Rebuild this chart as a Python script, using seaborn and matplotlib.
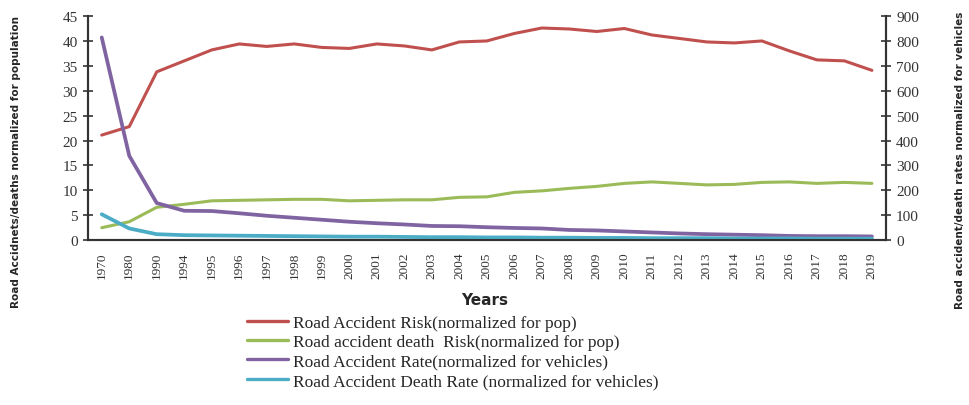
import matplotlib.pyplot as plt
import numpy as np
import pandas as pd
import seaborn as sns

# Data
years = ["1970", "1980", "1990", "1994", "1995", "1996", "1997", "1998", "1999",
         "2000", "2001", "2002", "2003", "2004", "2005", "2006", "2007", "2008",
         "2009", "2010", "2011", "2012", "2013", "2014", "2015", "2016", "2017",
         "2018", "2019"]

# left axis (normalized for population)
accident_risk = [21.1, 22.8, 33.8, 36.0, 38.2, 39.4, 38.9, 39.4, 38.7, 38.5, 39.4,
                 39.0, 38.2, 39.8, 40.0, 41.5, 42.6, 42.4, 41.9, 42.5, 41.2, 40.5,
                 39.8, 39.6, 40.0, 38.0, 36.2, 36.0, 34.1]
death_risk = [2.5, 3.7, 6.6, 7.2, 7.9, 8.0, 8.1, 8.2, 8.2, 7.9, 8.0, 8.1, 8.1, 8.6,
              8.7, 9.6, 9.9, 10.4, 10.8, 11.4, 11.7, 11.4, 11.1, 11.2, 11.6, 11.7,
              11.4, 11.6, 11.4]

# right axis (normalized for vehicles)
accident_rate = [814, 339, 149, 118, 117, 108, 98, 90, 82, 74, 68, 63, 57, 56, 52,
                 49, 47, 41, 39, 35, 31, 27, 24, 22, 20, 17, 16, 16, 15]
death_rate = [104, 47, 24, 20, 19, 18, 17, 16, 15, 14, 14, 13, 12, 12, 11, 11, 10,
              10, 9, 9, 8, 8, 8, 7, 7, 7, 6, 6, 6]

labels = ["Road Accident Risk(normalized for pop)",
          "Road accident death  Risk(normalized for pop)",
          "Road Accident Rate(normalized for vehicles)",
          "Road Accident Death Rate (normalized for vehicles)"]
colors = ["#C0504D", "#9BBB59", "#8064A2", "#4BACC6"]

sns.set_style("white")
plt.rcParams["font.family"] = ["Liberation Serif", "DejaVu Serif"]

pos = np.arange(len(years))
df_left = pd.DataFrame({"pos": pos, "risk": accident_risk, "death": death_risk})
df_right = pd.DataFrame({"pos": pos, "rate": accident_rate, "drate": death_rate})

fig = plt.figure(figsize=(9.69, 4.06), dpi=100)
ax = fig.add_axes([0.0908, 0.406, 0.8232, 0.552])
ax2 = ax.twinx()

sns.lineplot(data=df_left, x="pos", y="risk", ax=ax, color=colors[0], lw=2.2)
sns.lineplot(data=df_left, x="pos", y="death", ax=ax, color=colors[1], lw=2.2)
sns.lineplot(data=df_right, x="pos", y="rate", ax=ax2, color=colors[2], lw=2.7)
sns.lineplot(data=df_right, x="pos", y="drate", ax=ax2, color=colors[3], lw=2.7)

ax.set_xlim(-0.5, len(years) - 0.5)
ax.set_ylim(0, 45)
ax2.set_ylim(0, 900)
ax.set_yticks(np.arange(0, 46, 5))
ax2.set_yticks(np.arange(0, 901, 100))

ax.set_xticks(pos)
ax.set_xticklabels(years, rotation=90, fontsize=9.5)
ax.set_xticks(np.arange(-0.5, len(years), 1), minor=True)
ax.tick_params(axis="x", which="major", length=0, pad=8)
ax.tick_params(axis="x", which="minor", length=7, direction="inout", width=1.2, color="#333333")
ax.tick_params(axis="y", length=7, direction="inout", width=1.2, color="#333333", labelsize=11, pad=4)
ax2.tick_params(axis="y", length=7, direction="inout", width=1.2, color="#333333", labelsize=11, pad=4)
for t in ax.get_yticklabels() + ax2.get_yticklabels() + ax.get_xticklabels():
    t.set_color("#333333")

ax.set_xlabel("")
ax.set_ylabel("")
ax2.set_ylabel("")
for a in (ax, ax2):
    a.spines["top"].set_visible(False)
    for s in ("left", "right", "bottom"):
        a.spines[s].set_color("#333333")
        a.spines[s].set_linewidth(1.5)

fig.text(0.5, 0.26, "Years", ha="center", va="center", fontsize=11,
         fontweight="bold", family=["DejaVu Sans"])
fig.text(0.016, 0.6, "Road Accidnets/deaths normalized for population", rotation=90,
         ha="center", va="center", fontsize=7.5, fontweight="bold", family=["DejaVu Sans"])
fig.text(0.991, 0.606, "Road accident/death rates normalized for vehicles", rotation=90,
         ha="center", va="center", fontsize=7.5, fontweight="bold", family=["DejaVu Sans"])

handles = [plt.Line2D([], [], color=c, lw=2.4) for c in colors]
fig.legend(handles, labels, loc="upper left", bbox_to_anchor=(0.255, 0.223),
           frameon=False, fontsize=12.5, handlelength=2.35, handletextpad=0.3,
           labelspacing=0.19, borderpad=0, borderaxespad=0)

fig.savefig("out.png", dpi=100)
